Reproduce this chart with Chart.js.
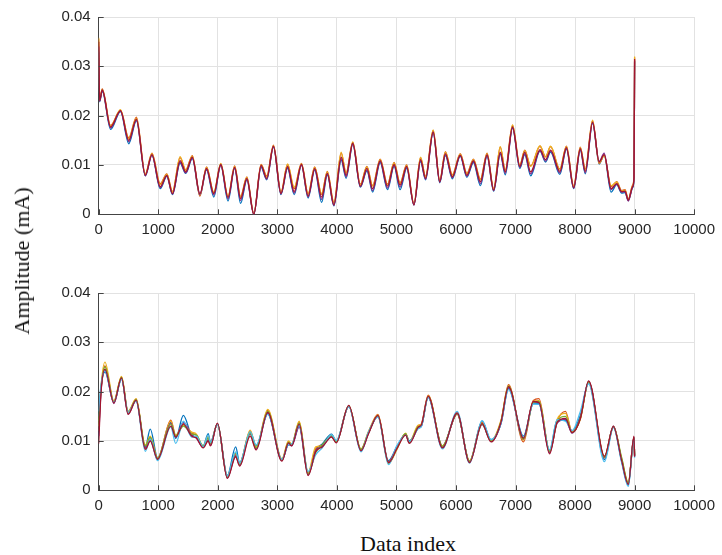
<!DOCTYPE html>
<html>
<head>
<meta charset="utf-8">
<script src="https://cdn.jsdelivr.net/npm/chart.js@4"></script>
<style>
  body { margin: 0; background: #fff; }
  #wrap { position: relative; width: 722px; height: 555px; overflow: hidden; background: #fff; }
  canvas { position: absolute; left: 0; }
  #topChart { top: 0; }
  #bottomChart { top: 276px; }
  .label { position: absolute; font-family: "Liberation Serif", "Times New Roman", serif; font-size: 22px; color: #111; white-space: nowrap; line-height: 22px; }
  #xTitle { left: 308px; top: 533px; width: 200px; text-align: center; }
  #yTitle { left: 22px; top: 261px; transform: translate(-50%, -50%) rotate(-90deg); }
</style>
</head>
<body>
<div id="wrap">
  <canvas id="topChart" width="722" height="250"></canvas>
  <canvas id="bottomChart" width="722" height="250"></canvas>
  <div class="label" id="yTitle">Amplitude (mA)</div>
  <div class="label" id="xTitle">Data index</div>
</div>
<script>
// Tick labels
const xTickLabels = ['0', '1000', '2000', '3000', '4000', '5000', '6000', '7000', '8000', '9000', '10000'];
const yTickLabels = ['0', '0.01', '0.02', '0.03', '0.04'];

// Upper plot: data index positions (peaks / troughs)
const topX = [0, 15, 60, 200, 366, 505, 633, 783, 894, 1033,
    1144, 1239, 1367, 1461, 1572, 1700, 1811, 1933, 2050, 2172,
    2283, 2383, 2488, 2605, 2727, 2822, 2935, 3061, 3172, 3283,
    3405, 3517, 3628, 3744, 3839, 3950, 4072, 4155, 4267, 4394,
    4505, 4600, 4727, 4850, 4961, 5061, 5172, 5294, 5405, 5489,
    5617, 5728, 5822, 5939, 6072, 6183, 6294, 6411, 6522, 6633,
    6744, 6828, 6950, 7072, 7155, 7255, 7411, 7505, 7589, 7744,
    7855, 7977, 8088, 8172, 8294, 8405, 8489, 8605, 8700, 8783,
    8839, 8894, 8967, 8990, 9000];

const topBlue = [0.0330, 0.0228, 0.0250, 0.0172, 0.0208, 0.0143, 0.0190, 0.0078, 0.0120, 0.0052,
    0.0077, 0.0040, 0.0104, 0.0083, 0.0113, 0.0038, 0.0090, 0.0035, 0.0099, 0.0027,
    0.0093, 0.0022, 0.0070, 0.0000, 0.0095, 0.0070, 0.0136, 0.0040, 0.0093, 0.0040,
    0.0100, 0.0033, 0.0090, 0.0024, 0.0080, 0.0017, 0.0110, 0.0073, 0.0142, 0.0055,
    0.0088, 0.0045, 0.0105, 0.0050, 0.0097, 0.0050, 0.0093, 0.0019, 0.0107, 0.0070,
    0.0165, 0.0064, 0.0119, 0.0072, 0.0118, 0.0075, 0.0105, 0.0058, 0.0118, 0.0047,
    0.0122, 0.0080, 0.0175, 0.0093, 0.0121, 0.0078, 0.0128, 0.0106, 0.0126, 0.0081,
    0.0132, 0.0052, 0.0130, 0.0082, 0.0185, 0.0102, 0.0120, 0.0045, 0.0060, 0.0043,
    0.0044, 0.0028, 0.0054, 0.0072, 0.0310];

const topOrange = [0.0355, 0.0232, 0.0254, 0.0180, 0.0211, 0.0155, 0.0197, 0.0082, 0.0124, 0.0062,
    0.0082, 0.0046, 0.0115, 0.0090, 0.0119, 0.0037, 0.0096, 0.0044, 0.0102, 0.0036,
    0.0098, 0.0036, 0.0076, 0.0002, 0.0101, 0.0078, 0.0140, 0.0045, 0.0101, 0.0052,
    0.0103, 0.0042, 0.0096, 0.0040, 0.0087, 0.0024, 0.0124, 0.0084, 0.0146, 0.0061,
    0.0097, 0.0058, 0.0112, 0.0061, 0.0105, 0.0064, 0.0100, 0.0022, 0.0115, 0.0077,
    0.0170, 0.0069, 0.0127, 0.0080, 0.0123, 0.0083, 0.0112, 0.0071, 0.0124, 0.0052,
    0.0136, 0.0090, 0.0180, 0.0100, 0.0130, 0.0098, 0.0138, 0.0117, 0.0137, 0.0092,
    0.0138, 0.0058, 0.0136, 0.0092, 0.0190, 0.0103, 0.0120, 0.0056, 0.0066, 0.0048,
    0.0050, 0.0031, 0.0059, 0.0078, 0.0318];

const topYellow = [0.0358, 0.0233, 0.0253, 0.0179, 0.0212, 0.0153, 0.0195, 0.0081, 0.0123, 0.0060,
    0.0081, 0.0045, 0.0117, 0.0089, 0.0118, 0.0039, 0.0095, 0.0045, 0.0103, 0.0037,
    0.0097, 0.0035, 0.0075, 0.0001, 0.0100, 0.0076, 0.0139, 0.0044, 0.0102, 0.0055,
    0.0102, 0.0041, 0.0095, 0.0042, 0.0086, 0.0023, 0.0126, 0.0083, 0.0147, 0.0060,
    0.0096, 0.0057, 0.0111, 0.0060, 0.0104, 0.0062, 0.0099, 0.0021, 0.0116, 0.0076,
    0.0171, 0.0068, 0.0126, 0.0079, 0.0122, 0.0082, 0.0111, 0.0070, 0.0123, 0.0051,
    0.0137, 0.0089, 0.0181, 0.0099, 0.0129, 0.0097, 0.0139, 0.0116, 0.0138, 0.0091,
    0.0137, 0.0057, 0.0135, 0.0091, 0.0191, 0.0104, 0.0119, 0.0058, 0.0065, 0.0047,
    0.0049, 0.0030, 0.0058, 0.0077, 0.0320];

const topPurple = [0.0340, 0.0229, 0.0251, 0.0175, 0.0209, 0.0147, 0.0191, 0.0078, 0.0120, 0.0054,
    0.0078, 0.0041, 0.0106, 0.0084, 0.0114, 0.0040, 0.0091, 0.0039, 0.0100, 0.0031,
    0.0094, 0.0028, 0.0071, 0.0000, 0.0097, 0.0071, 0.0137, 0.0041, 0.0095, 0.0043,
    0.0100, 0.0035, 0.0091, 0.0030, 0.0082, 0.0018, 0.0113, 0.0076, 0.0143, 0.0056,
    0.0090, 0.0048, 0.0107, 0.0053, 0.0099, 0.0055, 0.0095, 0.0019, 0.0109, 0.0071,
    0.0166, 0.0065, 0.0121, 0.0074, 0.0119, 0.0077, 0.0107, 0.0062, 0.0119, 0.0048,
    0.0124, 0.0083, 0.0176, 0.0095, 0.0123, 0.0082, 0.0129, 0.0108, 0.0128, 0.0084,
    0.0133, 0.0053, 0.0131, 0.0084, 0.0186, 0.0107, 0.0124, 0.0050, 0.0061, 0.0045,
    0.0046, 0.0027, 0.0055, 0.0073, 0.0312];

const topRed = [0.0350, 0.0230, 0.0252, 0.0177, 0.0210, 0.0150, 0.0193, 0.0079, 0.0121, 0.0056,
    0.0079, 0.0042, 0.0109, 0.0086, 0.0116, 0.0042, 0.0093, 0.0042, 0.0101, 0.0034,
    0.0095, 0.0032, 0.0073, 0.0000, 0.0099, 0.0073, 0.0138, 0.0042, 0.0097, 0.0046,
    0.0101, 0.0037, 0.0093, 0.0035, 0.0083, 0.0019, 0.0116, 0.0079, 0.0144, 0.0057,
    0.0093, 0.0052, 0.0109, 0.0057, 0.0101, 0.0059, 0.0097, 0.0019, 0.0111, 0.0073,
    0.0167, 0.0066, 0.0123, 0.0076, 0.0120, 0.0079, 0.0109, 0.0066, 0.0121, 0.0049,
    0.0126, 0.0086, 0.0177, 0.0097, 0.0126, 0.0086, 0.0131, 0.0111, 0.0130, 0.0087,
    0.0135, 0.0054, 0.0133, 0.0087, 0.0187, 0.0106, 0.0121, 0.0052, 0.0062, 0.0046,
    0.0047, 0.0029, 0.0056, 0.0075, 0.0315];

// Lower plot
const bottomX = [0, 40, 105, 255, 383, 494, 628, 783, 866, 989,
    1211, 1294, 1422, 1560, 1640, 1755, 1839, 1877, 1994, 2161,
    2300, 2367, 2544, 2644, 2839, 3077, 3188, 3240, 3367, 3517,
    3644, 3755, 3911, 3989, 4200, 4405, 4533, 4689, 4867, 5005,
    5155, 5217, 5367, 5420, 5533, 5772, 6020, 6228, 6439, 6589,
    6756, 6883, 7133, 7300, 7394, 7572, 7700, 7839, 7950, 8089,
    8228, 8494, 8644, 8783, 8894, 8989, 9000];

const bottomBlue = [0.0150, 0.0210, 0.0240, 0.0178, 0.0226, 0.0160, 0.0182, 0.0088, 0.0124, 0.0066,
    0.0138, 0.0105, 0.0152, 0.0112, 0.0108, 0.0090, 0.0115, 0.0098, 0.0134, 0.0030,
    0.0088, 0.0056, 0.0118, 0.0090, 0.0155, 0.0062, 0.0092, 0.0092, 0.0130, 0.0035,
    0.0082, 0.0094, 0.0114, 0.0100, 0.0170, 0.0082, 0.0118, 0.0150, 0.0060, 0.0088,
    0.0114, 0.0100, 0.0126, 0.0130, 0.0189, 0.0090, 0.0155, 0.0058, 0.0140, 0.0102,
    0.0136, 0.0206, 0.0110, 0.0176, 0.0176, 0.0080, 0.0142, 0.0142, 0.0120, 0.0152,
    0.0218, 0.0062, 0.0128, 0.0058, 0.0010, 0.0106, 0.0070];

const bottomOrange = [0.0120, 0.0205, 0.0252, 0.0180, 0.0230, 0.0158, 0.0185, 0.0085, 0.0106, 0.0064,
    0.0142, 0.0110, 0.0136, 0.0116, 0.0112, 0.0088, 0.0108, 0.0094, 0.0134, 0.0026,
    0.0074, 0.0052, 0.0120, 0.0086, 0.0162, 0.0062, 0.0098, 0.0092, 0.0138, 0.0034,
    0.0084, 0.0092, 0.0110, 0.0098, 0.0170, 0.0082, 0.0118, 0.0154, 0.0058, 0.0086,
    0.0114, 0.0097, 0.0131, 0.0135, 0.0193, 0.0088, 0.0156, 0.0058, 0.0138, 0.0100,
    0.0140, 0.0214, 0.0098, 0.0182, 0.0186, 0.0078, 0.0140, 0.0160, 0.0118, 0.0146,
    0.0220, 0.0066, 0.0130, 0.0062, 0.0014, 0.0108, 0.0070];

const bottomYellow = [0.0130, 0.0212, 0.0260, 0.0181, 0.0231, 0.0160, 0.0186, 0.0092, 0.0110, 0.0065,
    0.0140, 0.0112, 0.0132, 0.0118, 0.0114, 0.0089, 0.0110, 0.0096, 0.0135, 0.0028,
    0.0070, 0.0054, 0.0122, 0.0088, 0.0164, 0.0064, 0.0100, 0.0094, 0.0140, 0.0036,
    0.0088, 0.0090, 0.0112, 0.0099, 0.0171, 0.0084, 0.0120, 0.0153, 0.0054, 0.0082,
    0.0116, 0.0098, 0.0132, 0.0134, 0.0192, 0.0090, 0.0154, 0.0060, 0.0136, 0.0101,
    0.0142, 0.0212, 0.0102, 0.0181, 0.0182, 0.0080, 0.0144, 0.0156, 0.0119, 0.0144,
    0.0219, 0.0068, 0.0128, 0.0064, 0.0016, 0.0104, 0.0072];

const bottomPurple = [0.0110, 0.0202, 0.0244, 0.0176, 0.0227, 0.0155, 0.0182, 0.0086, 0.0102, 0.0062,
    0.0136, 0.0108, 0.0138, 0.0112, 0.0106, 0.0087, 0.0102, 0.0091, 0.0135, 0.0025,
    0.0070, 0.0050, 0.0114, 0.0084, 0.0156, 0.0060, 0.0094, 0.0090, 0.0128, 0.0031,
    0.0080, 0.0090, 0.0109, 0.0097, 0.0170, 0.0081, 0.0116, 0.0150, 0.0057, 0.0085,
    0.0113, 0.0096, 0.0127, 0.0131, 0.0189, 0.0087, 0.0155, 0.0057, 0.0133, 0.0099,
    0.0136, 0.0208, 0.0104, 0.0179, 0.0177, 0.0076, 0.0136, 0.0144, 0.0116, 0.0148,
    0.0221, 0.0066, 0.0130, 0.0061, 0.0013, 0.0108, 0.0069];

const bottomGreen = [0.0140, 0.0208, 0.0250, 0.0179, 0.0229, 0.0157, 0.0184, 0.0090, 0.0108, 0.0064,
    0.0134, 0.0110, 0.0130, 0.0114, 0.0112, 0.0090, 0.0106, 0.0095, 0.0134, 0.0027,
    0.0076, 0.0053, 0.0116, 0.0086, 0.0160, 0.0061, 0.0097, 0.0093, 0.0136, 0.0033,
    0.0076, 0.0092, 0.0111, 0.0098, 0.0171, 0.0083, 0.0117, 0.0151, 0.0055, 0.0084,
    0.0115, 0.0097, 0.0129, 0.0132, 0.0190, 0.0089, 0.0156, 0.0059, 0.0134, 0.0100,
    0.0139, 0.0211, 0.0104, 0.0178, 0.0180, 0.0079, 0.0139, 0.0150, 0.0117, 0.0146,
    0.0220, 0.0067, 0.0129, 0.0066, 0.0015, 0.0106, 0.0071];

const bottomCyan = [0.0160, 0.0215, 0.0242, 0.0178, 0.0225, 0.0158, 0.0181, 0.0079, 0.0104, 0.0060,
    0.0128, 0.0095, 0.0140, 0.0108, 0.0110, 0.0088, 0.0112, 0.0097, 0.0133, 0.0029,
    0.0078, 0.0055, 0.0119, 0.0092, 0.0154, 0.0063, 0.0093, 0.0094, 0.0131, 0.0038,
    0.0072, 0.0086, 0.0113, 0.0101, 0.0169, 0.0078, 0.0119, 0.0149, 0.0052, 0.0090,
    0.0112, 0.0099, 0.0125, 0.0130, 0.0188, 0.0084, 0.0160, 0.0055, 0.0141, 0.0103,
    0.0135, 0.0204, 0.0108, 0.0175, 0.0174, 0.0082, 0.0143, 0.0140, 0.0121, 0.0160,
    0.0216, 0.0058, 0.0127, 0.0056, 0.0008, 0.0105, 0.0066];

const bottomRed = [0.0095, 0.0200, 0.0245, 0.0177, 0.0228, 0.0154, 0.0183, 0.0083, 0.0100, 0.0063,
    0.0130, 0.0108, 0.0134, 0.0110, 0.0106, 0.0086, 0.0100, 0.0090, 0.0136, 0.0024,
    0.0068, 0.0049, 0.0110, 0.0082, 0.0158, 0.0059, 0.0096, 0.0090, 0.0134, 0.0030,
    0.0078, 0.0088, 0.0108, 0.0096, 0.0172, 0.0080, 0.0115, 0.0152, 0.0056, 0.0084,
    0.0112, 0.0095, 0.0128, 0.0133, 0.0191, 0.0086, 0.0157, 0.0056, 0.0135, 0.0098,
    0.0138, 0.0210, 0.0106, 0.0180, 0.0178, 0.0074, 0.0138, 0.0146, 0.0117, 0.0145,
    0.0222, 0.0069, 0.0129, 0.0060, 0.0012, 0.0110, 0.0068];

const colors = {
    blue: '#0072BD', orange: '#D95319', yellow: '#EDB120', purple: '#7E2F8E',
    green: '#77AC30', cyan: '#4DBEEE', red: '#A2142F'
};

Chart.defaults.font.family = '"Liberation Sans", Arial, sans-serif';
Chart.defaults.font.size = 15;
Chart.defaults.color = '#262626';

function toPoints(xs, ys) {
    return xs.map((x, i) => ({ x: x, y: ys[i] }));
}

// order: higher number is drawn first (underneath), like plot order in MATLAB
function makeDataset(xs, ys, color, order) {
    return {
        data: toPoints(xs, ys),
        borderColor: color,
        borderWidth: 1.3,
        pointRadius: 0,
        fill: false,
        order: order,
        cubicInterpolationMode: 'monotone'
    };
}

// small tick marks pointing into the axes, like MATLAB
const innerTicks = {
    id: 'innerTicks',
    afterDraw(chart) {
        const ctx = chart.ctx;
        const area = chart.chartArea;
        const xs = chart.scales.x;
        const ys = chart.scales.y;
        ctx.save();
        ctx.strokeStyle = '#444';
        ctx.lineWidth = 1;
        ctx.beginPath();
        xs.ticks.forEach(t => {
            const px = Math.round(xs.getPixelForValue(t.value)) + 0.5;
            ctx.moveTo(px, area.bottom);
            ctx.lineTo(px, area.bottom - 5);
        });
        ys.ticks.forEach(t => {
            const py = Math.round(ys.getPixelForValue(t.value)) + 0.5;
            ctx.moveTo(area.left, py);
            ctx.lineTo(area.left + 5, py);
        });
        ctx.stroke();
        ctx.restore();
    }
};

function makeChart(id, datasets) {
    return new Chart(document.getElementById(id), {
        type: 'line',
        data: { datasets: datasets },
        options: {
            responsive: false,
            animation: false,
            devicePixelRatio: 1,
            layout: { padding: { left: 0, top: 16, right: 22.7, bottom: 0 } },
            plugins: { legend: { display: false }, tooltip: { enabled: false } },
            scales: {
                x: {
                    type: 'linear',
                    min: 0,
                    max: 10000,
                    afterFit: s => { s.height = 35.7; },
                    ticks: {
                        stepSize: 1000,
                        padding: 7,
                        maxRotation: 0,
                        callback: v => xTickLabels[Math.round(v / 1000)]
                    },
                    grid: { color: '#e2e2e2', drawTicks: false },
                    border: { color: '#444', width: 1 }
                },
                y: {
                    min: 0,
                    max: 0.04,
                    afterFit: s => { s.width = 98.7; },
                    ticks: {
                        stepSize: 0.01,
                        padding: 8,
                        callback: v => yTickLabels[Math.round(v / 0.01)]
                    },
                    grid: { color: '#e2e2e2', drawTicks: false },
                    border: { color: '#444', width: 1 }
                }
            }
        },
        plugins: [innerTicks]
    });
}

makeChart('topChart', [
    makeDataset(topX, topBlue, colors.blue, 5),
    makeDataset(topX, topOrange, colors.orange, 4),
    makeDataset(topX, topYellow, colors.yellow, 3),
    makeDataset(topX, topPurple, colors.purple, 2),
    makeDataset(topX, topRed, colors.red, 1)
]);

makeChart('bottomChart', [
    makeDataset(bottomX, bottomBlue, colors.blue, 7),
    makeDataset(bottomX, bottomOrange, colors.orange, 6),
    makeDataset(bottomX, bottomYellow, colors.yellow, 5),
    makeDataset(bottomX, bottomPurple, colors.purple, 4),
    makeDataset(bottomX, bottomGreen, colors.green, 3),
    makeDataset(bottomX, bottomCyan, colors.cyan, 2),
    makeDataset(bottomX, bottomRed, colors.red, 1)
]);
</script>
</body>
</html>
